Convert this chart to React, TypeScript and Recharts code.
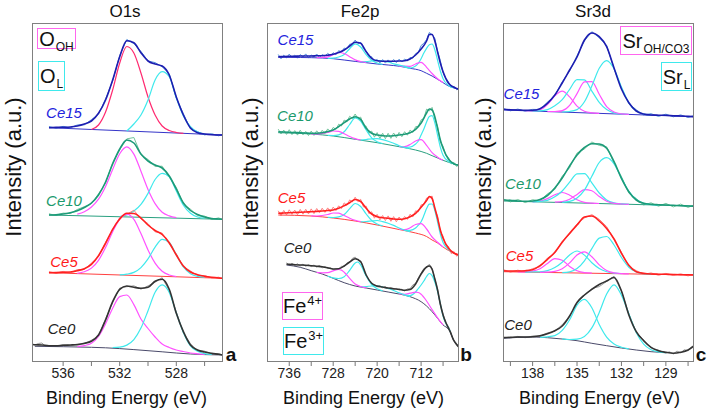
import React from "react";
import { ComposedChart, Line, XAxis, YAxis } from "recharts";

type Pt = [number, number];

// ---------- O1s (binding energy eV, intensity a.u.) ----------
const o1sCe15Raw: Pt[] = [[537, 235.5], [536.5, 233.8], [536, 235.6], [535.5, 234.2], [535, 237], [534.5, 237.2], [534, 242.3], [533.5, 247.8], [533, 263.1], [532.5, 281], [532, 306.5], [531.5, 322.5], [531, 318.4], [530.5, 310.6], [530, 301], [529.5, 299.4], [529, 295.2], [528.5, 288.3], [528, 264], [527.5, 248.2], [527, 233.2], [526.5, 230.4], [526, 227.1], [525.5, 228.3], [525, 226.2], [524.7, 227.6]];
const o1sCe15Fit: Pt[] = [[537, 234.3], [536.5, 234.6], [536, 234.7], [535.5, 235], [535, 236], [534.5, 238], [534, 241], [533.5, 248.7], [533, 262], [532.5, 282], [532, 305.3], [531.5, 321.3], [531, 319.3], [530.5, 309.3], [530, 301], [529.5, 298], [529, 296], [528.5, 287], [528, 265], [527.5, 247], [527, 234], [526.5, 229.3], [526, 228], [525.5, 227.3], [525, 227], [524.7, 227]];
const o1sCe15Bg: Pt[] = [[537, 234.3], [524.7, 227]];
const o1sCe15OH: Pt[] = [[534, 232.5], [533.5, 237], [533, 250], [532.5, 272], [532, 299], [531.5, 315.5], [531, 309], [530.5, 289], [530, 265], [529.5, 247], [529, 236], [528.5, 231.5], [528, 229.5], [527.5, 228.7]];
const o1sCe15L: Pt[] = [[531.5, 231], [531, 238], [530.5, 247], [530, 262], [529.5, 282], [529, 290.3], [528.5, 285.3], [528, 264], [527.5, 246], [527, 235.3], [526.5, 230], [526, 228]];

const o1sCe10Raw: Pt[] = [[537, 148.2], [536.5, 146.5], [536, 148.9], [535.5, 148.4], [535, 152.5], [534.5, 155.3], [534, 158.2], [533.5, 168.1], [533, 178.8], [532.5, 199.4], [532, 212.2], [531.5, 223.1], [531, 224.5], [530.5, 207.5], [530, 202.5], [529.5, 195.6], [529, 195.8], [528.5, 184.9], [528, 174.6], [527.5, 158], [527, 152.8], [526.5, 146.3], [526, 145.9], [525.5, 142.6], [525, 144.1], [524.7, 142]];
const o1sCe10Fit: Pt[] = [[537, 147], [536.5, 147.3], [536, 148], [535.5, 149.3], [535, 151.3], [534.5, 154.5], [534, 159], [533.5, 167], [533, 180], [532.5, 198], [532, 213], [531.5, 222], [531, 219], [530.5, 208], [530, 201], [529.5, 197], [529, 194], [528.5, 186], [528, 173], [527.5, 159], [527, 151.5], [526.5, 147.5], [526, 145], [525.5, 143.5], [525, 143], [524.7, 142.7]];
const o1sCe10Bg: Pt[] = [[537, 147], [524.7, 142.7]];
const o1sCe10OH: Pt[] = [[535, 147.8], [534.5, 150.2], [534, 155], [533.5, 162.8], [533, 175.6], [532.5, 192.5], [532, 208.3], [531.5, 215.1], [531, 207.9], [530.5, 190.8], [530, 172.6], [529.5, 158.4], [529, 149.7], [528.5, 146.1], [528, 144.3]];
const o1sCe10L: Pt[] = [[532, 145.5], [531.5, 147.1], [531, 150.9], [530.5, 157.6], [530, 168.6], [529.5, 182.5], [529, 188.7], [528.5, 185.1], [528, 170.9], [527.5, 156.8], [527, 148.7], [526.5, 145], [526, 143.9]];

const o1sCe5Raw: Pt[] = [[537, 90.5], [536.5, 88.7], [536, 90.6], [535.5, 89.2], [535, 92.4], [534.5, 92.6], [534, 98.9], [533.5, 105.4], [533, 119.9], [532.5, 131.6], [532, 144.5], [531.5, 147.6], [531, 151.8], [530.5, 143], [530, 138.4], [529.5, 130.2], [529, 128.9], [528.5, 118.2], [528, 108.1], [527.5, 95.3], [527, 91.1], [526.5, 86.5], [526, 86.4], [525.5, 84.1], [525, 84.8], [524.7, 83.2]];
const o1sCe5Fit: Pt[] = [[537, 89.3], [536.5, 89.4], [536, 89.7], [535.5, 90], [535, 91.3], [534.5, 93.3], [534, 97.7], [533.5, 106.3], [533, 118.7], [532.5, 132.7], [532, 143], [531.5, 148.7], [531, 148.5], [530.5, 144], [530, 137], [529.5, 131.5], [529, 127.5], [528.5, 119.3], [528, 107], [527.5, 96], [527, 90], [526.5, 87.3], [526, 85.7], [525.5, 84.7], [525, 84], [524.7, 83.7]];
const o1sCe5Bg: Pt[] = [[537, 89.3], [524.7, 83.7]];
const o1sCe5OH: Pt[] = [[535, 88.6], [534.5, 90.2], [534, 93.9], [533.5, 101.7], [533, 114.5], [532.5, 130.3], [532, 143], [531.5, 147.8], [531, 142.6], [530.5, 128.4], [530, 112.1], [529.5, 98.9], [529, 90.7], [528.5, 87], [528, 85.4]];
const o1sCe5L: Pt[] = [[532, 87.1], [531.5, 87.8], [531, 89.6], [530.5, 94.4], [530, 103.1], [529.5, 114.9], [529, 122.7], [528.5, 119.5], [528, 107.2], [527.5, 95], [527, 88.3], [526.5, 85.6], [526, 84.8]];

const o1sCe0Raw: Pt[] = [[538.2, 18], [538, 17], [537.75, 18.5], [537.5, 19], [537.25, 15.8], [537, 16.5], [536.5, 15.6], [536, 17.3], [535.5, 16.4], [535, 18], [534.5, 18.1], [534, 21.8], [533.5, 26.1], [533, 43.2], [532.5, 59.4], [532, 74], [531.5, 75.3], [531, 76.2], [530.5, 72.8], [530, 76.1], [529.5, 79.8], [529, 84.3], [528.5, 71.5], [528, 50], [527.5, 29.3], [527, 18.3], [526.5, 11.2], [526, 10.9], [525.5, 8], [525, 8.4], [524.7, 6.6]];
const o1sCe0Fit: Pt[] = [[538.2, 17.5], [538, 17.3], [537.5, 17], [537, 16.3], [536.5, 16.3], [536, 16.7], [535.5, 17], [535, 17.3], [534.5, 18.7], [534, 20.7], [533.5, 27], [533, 42], [532.5, 60.3], [532, 72.7], [531.5, 76], [531, 74.7], [530.5, 73.7], [530, 74.7], [529.5, 80.7], [529, 82.7], [528.5, 72.7], [528, 48.7], [527.5, 30.3], [527, 17], [526.5, 12], [526, 10], [525.5, 8.7], [525, 7.7], [524.7, 7]];
const o1sCe0Bg: Pt[] = [[538, 15.7], [536, 15.3], [534, 14.7], [533, 14.2], [532, 13.4], [531, 12.4], [530, 11.3], [529, 10.2], [528, 9], [527, 8], [526, 7.4], [524.7, 7]];
const o1sCe0OH: Pt[] = [[535, 15.3], [534.5, 16.4], [534, 18.7], [533.5, 25.5], [533, 38.2], [532.5, 53.8], [532, 65.4], [531.5, 67], [531, 57.4], [530.5, 43], [530, 33.5], [529.5, 25], [529, 18], [528.5, 14.5], [528, 12], [527.5, 10.5], [527, 9], [526.5, 8.2], [526, 7.6]];
const o1sCe0L: Pt[] = [[532.5, 14.5], [532, 14.9], [531.5, 16.9], [531, 22.4], [530.5, 33.9], [530, 51.3], [529.5, 69.8], [529, 77.2], [528.5, 69.6], [528, 49], [527.5, 29.5], [527, 16], [526.5, 10.7], [526, 8.4], [525.5, 7.6]];

// ---------- Fe2p ----------
const feCe15Raw: Pt[] = [[738, 307.5], [737.5, 303.2], [737, 306.8], [736.5, 304.1], [736, 307.9], [735.5, 304.6], [735, 306.9], [734.5, 303.8], [734, 307.4], [733.5, 305], [733, 308.1], [732.5, 304.3], [732, 306.9], [731.5, 305.1], [731, 308], [730.5, 304.6], [730, 307.5], [729.5, 305.8], [729, 308.6], [728.5, 306.4], [728, 309.3], [727.5, 307.2], [727, 311.4], [726.5, 309.8], [726, 313.9], [725.5, 313.2], [725, 317.8], [724.5, 318.1], [724, 321.9], [723.5, 318.4], [723, 319.6], [722.5, 313.3], [722, 311.2], [721.5, 304.8], [721, 305.3], [720.5, 300.2], [720, 302.6], [719.5, 299.1], [719, 302.4], [718.5, 298.9], [718, 302.1], [717.5, 299.3], [717, 302.5], [716.5, 299.4], [716, 302.8], [715.5, 300], [715, 303], [714.5, 301.1], [714, 304.6], [713.5, 303.8], [713, 308.4], [712.5, 309.6], [712, 316.5], [711.5, 318.7], [711, 322.4], [710.5, 329.5], [710, 327.4], [709.5, 323.6], [709, 310.8], [708.5, 301.4], [708, 289.2], [707.5, 283.6], [707, 279.8], [706.5, 275.2], [706, 275.6], [705.5, 272.2], [705.1, 274]];
const feCe15Fit: Pt[] = [[738, 305.3], [737, 305.5], [736, 305.7], [735, 305.8], [734, 306], [733, 306], [732, 306], [731, 306.2], [730, 306.3], [729, 306.8], [728, 307.7], [727, 309.5], [726, 312], [725, 316], [724, 319.7], [723, 318.7], [722, 310.3], [721, 303.7], [720, 301.3], [719, 300.8], [718, 300.7], [717, 300.8], [716, 301], [715, 301.3], [714, 303], [713, 307], [712, 313], [711, 321], [710.5, 327.5], [710, 327.5], [709.5, 321], [709, 310], [708.5, 299], [708, 290.3], [707, 278.7], [706, 274.7], [705.1, 272.7]];
const feCe15Bg: Pt[] = [[738, 304.7], [734, 304.5], [730, 304], [728, 303.3], [726, 302], [724, 300.6], [722, 299.3], [720, 298], [718, 297], [716, 295.8], [714, 293.7], [712, 291.3], [711, 288.7], [710, 286], [709, 282.7], [708, 279.3], [707, 276], [706, 274], [705.1, 272.7]];
const feCe15Fe3a: Pt[] = [[715, 294.8], [714, 294], [713, 296], [712.5, 298.9], [712, 303.3], [711.5, 309], [711, 313.7], [710.5, 317.3], [710, 318], [709.5, 312.3], [709, 301.7], [708.5, 291], [708, 283.3], [707, 276.5], [706, 274]];
const feCe15Fe4a: Pt[] = [[716, 296], [715, 295.8], [714, 295.7], [713, 298], [712, 299.7], [711, 294.7], [710, 288.5], [709, 283.2], [708, 279.5]];
const feCe15Sat: Pt[] = [[723, 300.2], [722, 300.3], [721, 301.2], [720, 301.5], [719, 301], [718, 300], [717, 298.2], [716, 296.8], [715, 295.6], [714, 293.9]];
const feCe15Fe3b: Pt[] = [[729, 303.6], [728, 303.8], [727, 305], [726, 307.5], [725, 313.3], [724, 318.1], [723, 315], [722, 307.3], [721, 301.7], [720, 299], [719, 297.6]];
const feCe15Fe4b: Pt[] = [[731, 304.3], [730, 304.5], [729, 305.2], [728, 307.3], [727, 309.5], [726, 308.5], [725, 305.3], [724, 302.1], [723, 300.5], [722, 299.5]];

const feCe10Raw: Pt[] = [[738, 232.8], [737.5, 228.1], [737, 231.9], [736.5, 227.6], [736, 232.3], [735.5, 227.4], [735, 231.4], [734.5, 226.9], [734, 231.8], [733.5, 227.2], [733, 230.6], [732.5, 226.5], [732, 230.9], [731.5, 226.6], [731, 231.2], [730.5, 227.8], [730, 231.7], [729.5, 228.3], [729, 233.1], [728.5, 230.2], [728, 234.6], [727.5, 232.6], [727, 237.8], [726.5, 236], [726, 241.9], [725.5, 240.2], [725, 245.7], [724.5, 243.6], [724, 248], [723.5, 243.1], [723, 244.9], [722.5, 236.6], [722, 235.8], [721.5, 228.7], [721, 230.9], [720.5, 224.8], [720, 229.4], [719.5, 223.5], [719, 228.8], [718.5, 223.3], [718, 228.7], [717.5, 223.6], [717, 229], [716.5, 224.4], [716, 229.6], [715.5, 225.3], [715, 230.3], [714.5, 226.8], [714, 231.9], [713.5, 229.5], [713, 235.3], [712.5, 235.8], [712, 242.1], [711.5, 243.6], [711, 252.8], [710.5, 251.1], [710, 254.6], [709.5, 243], [709, 235.9], [708.5, 220.1], [708, 215.8], [707.5, 206.4], [707, 204.3], [706.5, 198.2], [706, 199.5], [705.5, 195.4], [705.1, 197.8]];
const feCe10Fit: Pt[] = [[738, 230.3], [737, 230], [736, 229.7], [735, 229.5], [734, 229.3], [733, 229], [732, 228.7], [731, 228.8], [730, 229.3], [729, 230.5], [728, 232], [727, 235.3], [726, 239.3], [725, 243], [724, 245.3], [723, 242.7], [722, 233.7], [721, 228.7], [720, 227], [719, 226.3], [718, 226], [717, 226.3], [716, 227], [715, 227.7], [714, 229.3], [713, 232.7], [712, 239], [711, 249], [710.5, 253], [710, 252], [709.5, 245.3], [709, 233.7], [708.5, 222], [708, 213.7], [707, 202.7], [706, 198], [705.1, 196.7]];
const feCe10Bg: Pt[] = [[738, 229.3], [732, 228], [728, 226], [724, 222.7], [720, 219.3], [716, 215.3], [713, 212], [711, 208.7], [710, 206.3], [709, 204], [708, 201.7], [707, 199.7], [706, 198], [705.1, 197]];
const feCe10Fe3a: Pt[] = [[715, 214.6], [714, 215], [713, 218], [712.5, 221], [712, 227], [711.5, 233], [711, 240], [710.5, 245.5], [710, 246.3], [709.5, 239.2], [709, 227], [708.5, 214.8], [708, 206.7], [707, 200.7], [706, 198]];
const feCe10Fe4a: Pt[] = [[716, 215.5], [715.5, 215.1], [715, 215.3], [714, 217.5], [713, 221], [712, 222.3], [711, 216.7], [710, 209.3], [709, 204.8], [708, 201.7]];
const feCe10Sat: Pt[] = [[723, 221.9], [722, 222.5], [721, 223.2], [720, 223.3], [719, 222.3], [718, 220.8], [717, 218.8], [716, 216.3], [715, 214.6], [714, 213.6]];
const feCe10Fe3b: Pt[] = [[729, 226.6], [728, 226.5], [727, 227.2], [726, 230.3], [725, 237.5], [724, 244.2], [723, 240.8], [722, 232], [721, 224.2], [720, 220.3], [719, 218.5]];
const feCe10Fe4b: Pt[] = [[732, 228], [731, 228], [730, 228.5], [729, 229.5], [728, 231], [727, 230.7], [726, 228.3], [725, 225.5], [724, 223.4], [723, 222]];

const feCe5Raw: Pt[] = [[738, 151.2], [737.5, 146.3], [737, 151.6], [736.5, 147.1], [736, 152.2], [735.5, 147.6], [735, 151.9], [734.5, 147.3], [734, 152.6], [733.5, 147.8], [733, 152.7], [732.5, 148.1], [732, 153.1], [731.5, 148.4], [731, 153.5], [730.5, 149.2], [730, 153.8], [729.5, 149.6], [729, 154.1], [728.5, 150], [728, 154.9], [727.5, 151.4], [727, 156.2], [726.5, 153.4], [726, 159.1], [725.5, 156.6], [725, 162.1], [724.5, 160.2], [724, 164.8], [723.5, 160.3], [723, 162.7], [722.5, 155.1], [722, 155.9], [721.5, 148.3], [721, 150.2], [720.5, 143.8], [720, 147.6], [719.5, 142.1], [719, 146.5], [718.5, 141.4], [718, 146.1], [717.5, 140.7], [717, 145.4], [716.5, 140.2], [716, 145], [715.5, 141.1], [715, 145.5], [714.5, 142.6], [714, 147.8], [713.5, 145.1], [713, 151.2], [712.5, 150.2], [712, 157.1], [711.5, 157.6], [711, 163.9], [710.5, 164.2], [710, 166], [709.5, 152.4], [709, 146.1], [708.5, 130.3], [708, 125.9], [707.5, 116.4], [707, 115.5], [706.5, 108.3], [706, 110.4], [705.5, 105.7], [705.1, 108.4]];
const feCe5Fit: Pt[] = [[738, 148.7], [737, 149], [736, 149.3], [735, 149.5], [734, 149.7], [733, 150], [732, 150.3], [731, 150.6], [730, 151], [729, 151.5], [728, 152], [727, 153.7], [726, 156.3], [725, 159.3], [724, 162.5], [723, 160.5], [722, 153.7], [721, 148], [720, 145.3], [719, 144.3], [718, 143.7], [717, 143], [716, 142.7], [715, 143.3], [714, 145.3], [713, 148.7], [712, 154.7], [711, 161.5], [710.5, 165.5], [710, 163.5], [709.5, 154], [709, 143.7], [708.5, 132], [708, 123.7], [707, 113.7], [706, 108.7], [705.1, 107]];
const feCe5Bg: Pt[] = [[738, 147], [732, 146], [728, 144], [724, 141], [720, 137], [716, 132.5], [713, 129], [711, 125.5], [710, 122], [709, 119], [708, 115], [707, 111.5], [706, 109], [705.1, 107]];
const feCe5Fe3a: Pt[] = [[715, 131.5], [714, 131.7], [713, 134], [712.5, 136.8], [712, 140.3], [711.5, 146.4], [711, 153.5], [710.5, 157.8], [710, 158], [709.5, 151.5], [709, 140], [708.5, 128], [708, 119.5], [707, 112.5], [706, 109]];
const feCe5Fe4a: Pt[] = [[716, 132.8], [715.5, 132.5], [715, 132.3], [714, 134.2], [713, 137.5], [712, 138.3], [711, 133], [710, 125], [709, 119.8], [708, 115]];
const feCe5Sat: Pt[] = [[723, 140.2], [722, 140.5], [721, 141], [720, 141.5], [719, 140.4], [718, 138.8], [717, 136.6], [716, 134], [715, 131.8], [714, 130.3]];
const feCe5Fe3b: Pt[] = [[729, 144.6], [728, 144.5], [727, 145.1], [726, 147.5], [725, 153.3], [724, 158.5], [723, 155.5], [722, 148], [721, 141.5], [720, 138], [719, 136.1]];
const feCe5Fe4b: Pt[] = [[732, 146.2], [731, 146], [730, 146.5], [729, 147.5], [728, 149], [727, 148.8], [726, 146.5], [725, 143.8], [724, 141.7], [723, 140.3]];

const feCe0Raw: Pt[] = [[736.5, 99.2], [736, 96.6], [735.5, 98.9], [735, 96.4], [734.5, 98.3], [734, 96.1], [733.5, 97.9], [733, 95.7], [732.5, 97.5], [732, 95.4], [731.5, 97], [731, 94.8], [730.5, 96.5], [730, 94.2], [729.5, 95.5], [729, 93.4], [728.5, 94.1], [728, 92.2], [727.5, 93.6], [727, 92.9], [726.5, 95.8], [726, 95.5], [725.5, 99.1], [725, 99.8], [724.5, 103.6], [724, 104.9], [723.5, 102], [723, 101.2], [722.5, 93.8], [722, 86.1], [721.5, 82.3], [721, 77.9], [720.5, 77.5], [720, 75.1], [719.5, 76.3], [719, 74.2], [718.5, 75.2], [718, 73.3], [717.5, 74.4], [717, 72.5], [716.5, 73.6], [716, 71.8], [715.5, 72.8], [715, 71], [714.5, 73.1], [714, 73.3], [713.5, 77.1], [713, 78.6], [712.5, 84.2], [712, 88.7], [711.5, 93.4], [711, 94.6], [710.5, 97.8], [710, 93.5], [709.5, 83.2], [709, 72.9], [708.5, 57.1], [708, 47.9], [707.5, 39], [707, 35.3], [706.7, 31], [706.4, 26], [706.1, 22.8], [705.6, 18.6], [705.2, 15]];
const feCe0Fit: Pt[] = [[736.5, 98], [736, 97.7], [735, 97.3], [734, 97], [733, 96.7], [732, 96.3], [731, 95.8], [730, 95.3], [729, 94.3], [728, 93], [727, 93.3], [726, 96], [725, 100], [724, 103.3], [723, 100.3], [722, 87], [721, 78.7], [720, 76], [719, 75], [718, 74], [717, 73.3], [716, 72.7], [715, 71.7], [714, 72.5], [713, 78], [712, 88], [711, 95], [710.5, 96], [710, 92.7], [709.5, 83], [709, 72], [708.5, 58], [708, 47], [707.5, 39.5], [707, 33.7], [706.7, 30.3], [706.1, 22], [705.6, 18], [705.2, 15.3]];
const feCe0Bg: Pt[] = [[736.5, 97], [734, 94.7], [732, 91.3], [730, 88], [728, 83.7], [726, 79.3], [724, 76], [722, 74], [720, 72], [718, 70], [716, 68], [714, 65.3], [712, 60.3], [711, 56], [710, 50.3], [709, 43.7], [708, 37], [707, 32.7], [706.7, 30], [706.1, 22], [705.2, 15.3]];
const feCe0Fe3a: Pt[] = [[715, 67], [714, 66.5], [713, 70], [712.5, 73.5], [712, 77], [711.5, 81], [711, 85.5], [710.5, 88.5], [710, 86.3], [709.5, 80], [709, 70.7], [708.5, 58.3], [708, 46], [707.5, 38.8], [707, 34.2], [706.7, 30.5]];
const feCe0Fe4a: Pt[] = [[716, 68.2], [715.5, 68], [715, 67.7], [714, 68.8], [713, 69.8], [712.5, 69.5], [712, 67.8], [711, 61], [710, 52.3], [709, 44.2], [708, 37]];
const feCe0Sat: Pt[] = [[723, 75.2], [722, 75.5], [721, 76], [720, 76], [719, 75], [718, 73.5], [717, 71.5], [716, 69.2], [715, 67.1], [714, 65.4]];
const feCe0Fe3b: Pt[] = [[729, 85.8], [728, 84.2], [727, 83.5], [726, 85.3], [725, 91.7], [724, 99], [723.5, 100], [723, 97], [722, 86], [721, 77.5], [720, 73.2], [719, 71.2]];
const feCe0Fe4b: Pt[] = [[731, 89.6], [730.5, 89.3], [730, 89.2], [729, 89.3], [728, 91.2], [727, 92.5], [726.5, 91.9], [726, 89.8], [725, 83.7], [724, 78], [723, 75.5], [722, 74.2]];

// ---------- Sr3d ----------
const srCe15Raw: Pt[] = [[140, 253.5], [139.5, 251.2], [139, 252.9], [138.5, 250.8], [138, 252.6], [137.5, 252.5], [137, 259.8], [136.5, 266.1], [136, 280.2], [135.5, 291.1], [135, 306.3], [134.5, 321.1], [134, 330.3], [133.5, 324.2], [133, 316.5], [132.5, 293.1], [132, 274.2], [131.5, 258.4], [131, 252.2], [130.5, 247.1], [130, 248.3], [129.5, 245.6], [129, 247.8], [128.5, 245.2], [128, 247.1], [127.5, 244.6], [127.1, 246.4]];
const srCe15Fit: Pt[] = [[140, 252.7], [139.5, 252.3], [139, 252], [138.5, 251.7], [138, 251.7], [137.5, 253.3], [137, 258.7], [136.5, 267], [136, 279], [135.5, 292], [135, 305], [134.5, 322], [134, 329], [133.5, 325.3], [133, 315.3], [132.5, 294], [132, 273], [131.5, 259.3], [131, 251], [130.5, 248], [130, 247], [129.5, 246.8], [129, 246.7], [128.5, 246.3], [128, 246], [127.5, 245.6], [127.1, 245.3]];
const srCe15Bg: Pt[] = [[140, 252], [127.1, 245.3]];
const srCe15OHa: Pt[] = [[138.5, 251.3], [138, 251.3], [137.5, 252.2], [137, 257.4], [136.5, 266.2], [136, 270.9], [135.5, 265.1], [135, 255.9], [134.5, 250.7], [134, 249.2], [133.5, 248.7]];
const srCe15La: Pt[] = [[138, 251], [137.5, 251.2], [137, 252.4], [136.5, 256.2], [136, 262.4], [135.5, 272.7], [135, 282.4], [134.5, 282.2], [134, 270.9], [133.5, 259.7], [133, 252.4], [132.5, 249.2], [132, 248.1], [131.5, 247.7]];
const srCe15OHb: Pt[] = [[137, 250.4], [136.5, 250.5], [136, 251.4], [135.5, 256.7], [135, 268.4], [134.5, 280.2], [134, 280.4], [133.5, 267.7], [133, 255.4], [132.5, 250], [132, 248.2], [131.5, 247.7]];
const srCe15Lb: Pt[] = [[136, 250], [135.5, 250.5], [135, 252.4], [134.5, 260.2], [134, 275.9], [133.5, 293.7], [133, 301.4], [132.5, 293.2], [132, 274.9], [131.5, 259.1], [131, 251], [130.5, 247.9], [130, 247]];

const srCe10Raw: Pt[] = [[140, 163.2], [139.5, 160.1], [139, 162.5], [138.5, 159.4], [138, 162.3], [137.5, 161.1], [137, 168.1], [136.5, 172.6], [136, 185.8], [135.5, 194.4], [135, 208.9], [134.5, 213.1], [134, 220], [133.5, 216.6], [133, 215.2], [132.5, 198.9], [132, 185.4], [131.5, 168.8], [131, 163.5], [130.5, 157.1], [130, 159.2], [129.5, 155.8], [129, 158.6], [128.5, 155.1], [128, 157.9], [127.5, 154.6], [127.1, 157]];
const srCe10Fit: Pt[] = [[140, 162], [139.5, 161.7], [139, 161], [138.5, 160.7], [138, 161], [137.5, 162.5], [137, 166.5], [136.5, 174], [136, 184], [135.5, 196], [135, 207], [134.5, 214.5], [134, 218.3], [133.5, 218], [133, 213.7], [132.5, 200.3], [132, 183.7], [131.5, 170.3], [131, 162], [130.5, 158.7], [130, 157.7], [129.5, 157.3], [129, 157], [128.5, 156.7], [128, 156.3], [127.5, 156], [127.1, 155.7]];
const srCe10Bg: Pt[] = [[140, 161], [127.1, 156]];
const srCe10OHa: Pt[] = [[138, 160.2], [137.5, 160.8], [137, 163.4], [136.5, 167.2], [136, 169.5], [135.5, 166.8], [135, 162.3], [134.5, 159.7], [134, 158.8], [133.5, 158.5]];
const srCe10La: Pt[] = [[138, 160.1], [137.5, 160.6], [137, 161.7], [136.5, 165.2], [136, 171], [135.5, 179.8], [135, 188.1], [134.5, 188.4], [134, 179.2], [133.5, 169], [133, 162.1], [132.5, 159.1], [132, 158.1], [131.5, 157.7]];
const srCe10OHb: Pt[] = [[136.5, 159.8], [136, 160.3], [135.5, 162.8], [135, 167.6], [134.5, 172.4], [134, 171.2], [133.5, 165.5], [133, 160.8], [132.5, 158.6], [132, 158], [131.5, 157.7]];
const srCe10Lb: Pt[] = [[136, 159.6], [135.5, 160.6], [135, 164.1], [134.5, 171.9], [134, 185.7], [133.5, 199.5], [133, 204.3], [132.5, 198.1], [132, 183.9], [131.5, 170.7], [131, 162.5], [130.5, 158.7], [130, 157.4], [129.5, 156.9]];

const srCe5Raw: Pt[] = [[140, 92.5], [139.5, 89.9], [139, 91.8], [138.5, 90.2], [138, 93.4], [137.5, 95.2], [137, 103.9], [136.5, 108.6], [136, 120.8], [135.5, 127.6], [135, 138.1], [134.5, 144], [134, 147.4], [133.5, 142.7], [133, 135.4], [132.5, 122.6], [132, 109.8], [131.5, 95.6], [131, 91.4], [130.5, 87.6], [130, 89.1], [129.5, 86.7], [129, 88.6], [128.5, 86.5], [128, 88.2], [127.5, 86.1], [127.1, 87.9]];
const srCe5Fit: Pt[] = [[140, 91.3], [139.5, 91], [139, 91], [138.5, 91.3], [138, 92.3], [137.5, 96.3], [137, 102.7], [136.5, 109.7], [136, 119.7], [135.5, 128.7], [135, 137], [134.5, 145], [134, 146], [133.5, 141], [133, 133.5], [132.5, 123], [132, 108.7], [131.5, 96.7], [131, 90.3], [130.5, 88.7], [130, 88], [129.5, 87.8], [129, 87.7], [128.5, 87.5], [128, 87.3], [127.5, 87.2], [127.1, 87]];
const srCe5Bg: Pt[] = [[140, 90.3], [127.1, 87]];
const srCe5OHa: Pt[] = [[139, 90], [138.5, 90], [138, 90.8], [137.5, 93.2], [137, 98.5], [136.5, 103.4], [136, 101.8], [135.5, 95.6], [135, 91.3], [134.5, 89.4], [134, 88.9]];
const srCe5La: Pt[] = [[138.5, 89.9], [138, 90], [137.5, 90.2], [137, 91.3], [136.5, 94.4], [136, 99.8], [135.5, 107.1], [135, 111], [134.5, 106.9], [134, 99.3], [133.5, 93.6], [133, 90.3], [132.5, 88.9], [132, 88.4]];
const srCe5OHb: Pt[] = [[137.5, 89.7], [137, 89.8], [136.5, 90.6], [136, 93.3], [135.5, 99.1], [135, 107], [134.5, 110.2], [134, 105.3], [133.5, 97.1], [133, 91.5], [132.5, 89.1], [132, 88.4], [131.5, 88.1]];
const srCe5Lb: Pt[] = [[136, 89.4], [135.5, 90.2], [135, 93.5], [134.5, 101.2], [134, 113.4], [133.5, 123.9], [133, 125.5], [132.5, 117], [132, 104.5], [131.5, 94.8], [131, 90], [130.5, 88.3], [130, 87.8]];

const srCe0Raw: Pt[] = [[140, 25], [139.5, 24], [139, 25.6], [138.5, 24.3], [138, 26], [137.5, 25.7], [137, 29.1], [136.5, 30.8], [136, 37.3], [135.5, 45.4], [135, 59.2], [134.5, 66.4], [134, 73.5], [133.5, 75.4], [133, 80.6], [132.5, 85.8], [132, 71.1], [131.5, 47.9], [131, 29.6], [130.5, 22], [130, 14.1], [129.5, 11.9], [129, 8.8], [128.75, 10.2], [128.5, 8], [128.25, 10.9], [128, 9.2], [127.75, 12.3], [127.5, 11.2], [127.3, 14.8], [127.1, 16.5]];
const srCe0Fit: Pt[] = [[140, 24.3], [139.5, 24.7], [139, 25], [138.5, 25], [138, 25.3], [137.5, 26.3], [137, 28.3], [136.5, 31.3], [136, 36], [135.5, 46], [135, 59.5], [134.5, 67], [134, 72.7], [133.5, 77.5], [133, 81], [132.5, 84.5], [132, 71], [131.5, 47], [131, 30.3], [130.5, 21.3], [130, 14.7], [129.5, 11.3], [129, 9.7], [128.5, 8.7], [128, 9.7], [127.5, 12], [127.1, 16]];
const srCe0Bg: Pt[] = [[140, 23.7], [138, 25], [137, 24.3], [136, 23], [135, 21.3], [134, 18.7], [133, 16.3], [132, 14], [131, 12], [130, 10.3], [129, 9.3]];
const srCe0La: Pt[] = [[137.5, 24.7], [137, 25.2], [136.5, 26.4], [136, 31.6], [135.5, 42.2], [135, 56.9], [134.5, 62.7], [134, 54.3], [133.5, 37.5], [133, 24.9], [132.5, 17.9], [132, 14.8], [131.5, 13.2]];
const srCe0Lb: Pt[] = [[136, 23.1], [135.5, 22.5], [135, 22.9], [134.5, 25.5], [134, 34.1], [133.5, 49.5], [133, 68], [132.5, 77.2], [132, 66.8], [131.5, 48.2], [131, 29.6], [130.5, 17.8], [130, 12.3], [129.5, 10.2], [129, 9.4]];

// axis ticks
const o1sTicks = [536, 534, 532, 530, 528, 526];
const o1sLabels = [536, 532, 528];
const feTicks = [736, 732, 728, 724, 720, 716, 712, 708];
const feLabels = [736, 728, 720, 712];
const srTicks = [139.5, 138, 136.5, 135, 133.5, 132, 130.5, 129, 127.5];
const srLabels = [138, 135, 132, 129];

const MAG = "#ff52ff";
const CYA = "#3fe9ec";
const FONT = '"Liberation Sans", Arial, sans-serif';

const STY = {
  ce15: { fit: "#1d1db0", raw: "#4f8fd8", bg: "#3535c8" },
  ce10: { fit: "#1c9a78", raw: "#72c49c", bg: "#2aa080" },
  ce5: { fit: "#ff2020", raw: "#ff8080", bg: "#ff4040" },
  ce0: { fit: "#333333", raw: "#9a9a9a", bg: "#4a4a6a" },
};

interface Series {
  pts: Pt[];
  color: string;
  width: number;
  smooth: boolean;
}

const spectrum = (
  raw: Pt[],
  fit: Pt[],
  bg: Pt[],
  comps: [Pt[], string][],
  s: { fit: string; raw: string; bg: string }
): Series[] => [
  { pts: raw, color: s.raw, width: 1, smooth: false },
  { pts: bg, color: s.bg, width: 1, smooth: true },
  ...comps.map(([p, c]) => ({ pts: p, color: c, width: 1.2, smooth: true })),
  { pts: fit, color: s.fit, width: 1.6, smooth: true },
];

const o1sSeries: Series[] = [
  ...spectrum(o1sCe15Raw, o1sCe15Fit, o1sCe15Bg, [[o1sCe15OH, "#ff2a70"], [o1sCe15L, CYA]], STY.ce15),
  ...spectrum(o1sCe10Raw, o1sCe10Fit, o1sCe10Bg, [[o1sCe10OH, MAG], [o1sCe10L, CYA]], STY.ce10),
  ...spectrum(o1sCe5Raw, o1sCe5Fit, o1sCe5Bg, [[o1sCe5OH, MAG], [o1sCe5L, CYA]], STY.ce5),
  ...spectrum(o1sCe0Raw, o1sCe0Fit, o1sCe0Bg, [[o1sCe0OH, MAG], [o1sCe0L, CYA]], STY.ce0),
];

const feSeries: Series[] = [
  ...spectrum(feCe15Raw, feCe15Fit, feCe15Bg, [[feCe15Fe3a, CYA], [feCe15Fe4a, MAG], [feCe15Sat, CYA], [feCe15Fe3b, CYA], [feCe15Fe4b, MAG]], STY.ce15),
  ...spectrum(feCe10Raw, feCe10Fit, feCe10Bg, [[feCe10Fe3a, CYA], [feCe10Fe4a, MAG], [feCe10Sat, CYA], [feCe10Fe3b, CYA], [feCe10Fe4b, MAG]], STY.ce10),
  ...spectrum(feCe5Raw, feCe5Fit, feCe5Bg, [[feCe5Fe3a, CYA], [feCe5Fe4a, MAG], [feCe5Sat, CYA], [feCe5Fe3b, CYA], [feCe5Fe4b, MAG]], STY.ce5),
  ...spectrum(feCe0Raw, feCe0Fit, feCe0Bg, [[feCe0Fe3a, CYA], [feCe0Fe4a, MAG], [feCe0Sat, CYA], [feCe0Fe3b, CYA], [feCe0Fe4b, MAG]], STY.ce0),
];

const srSeries: Series[] = [
  ...spectrum(srCe15Raw, srCe15Fit, srCe15Bg, [[srCe15OHa, MAG], [srCe15La, CYA], [srCe15OHb, MAG], [srCe15Lb, CYA]], STY.ce15),
  ...spectrum(srCe10Raw, srCe10Fit, srCe10Bg, [[srCe10OHa, MAG], [srCe10La, CYA], [srCe10OHb, MAG], [srCe10Lb, CYA]], STY.ce10),
  ...spectrum(srCe5Raw, srCe5Fit, srCe5Bg, [[srCe5OHa, MAG], [srCe5La, CYA], [srCe5OHb, MAG], [srCe5Lb, CYA]], STY.ce5),
  ...spectrum(srCe0Raw, srCe0Fit, srCe0Bg, [[srCe0La, CYA], [srCe0Lb, CYA]], STY.ce0),
];

const PLOT_TOP = 23;
const PLOT_H = 339;

const Panel = ({ left, width, domain, ticks, labels, series }: {
  left: number;
  width: number;
  domain: [number, number];
  ticks: number[];
  labels: number[];
  series: Series[];
}) => (
  <div style={{ position: "absolute", left, top: PLOT_TOP }}>
    <ComposedChart width={width} height={PLOT_H + 30} margin={{ top: 0, right: 0, bottom: 0, left: 0 }}>
      <XAxis
        type="number"
        dataKey="x"
        domain={domain}
        reversed
        allowDataOverflow
        ticks={ticks}
        interval={0}
        tickFormatter={(v: number) => (labels.includes(v) ? String(v) : "")}
        tick={{ fontSize: 14, fill: "#222", fontFamily: FONT }}
        tickSize={4}
        tickLine={{ stroke: "#777" }}
        axisLine={false}
        height={30}
      />
      <YAxis type="number" domain={[0, PLOT_H]} hide allowDataOverflow />
      {series.map((s, i) => (
        <Line
          key={i}
          data={s.pts.map(([x, y]) => ({ x, y }))}
          dataKey="y"
          type={s.smooth ? "monotone" : "linear"}
          stroke={s.color}
          strokeWidth={s.width}
          dot={false}
          activeDot={false}
          isAnimationActive={false}
        />
      ))}
    </ComposedChart>
    <div
      style={{
        position: "absolute",
        left: 0,
        top: 0,
        width,
        height: PLOT_H,
        border: "1px solid #808080",
        boxSizing: "border-box",
        pointerEvents: "none",
      }}
    />
  </div>
);

const T = ({ x, y, children, style }: { x: number; y: number; children: React.ReactNode; style?: React.CSSProperties }) => (
  <div
    style={{
      position: "absolute",
      left: x,
      top: y,
      transform: "translate(-50%, -50%)",
      whiteSpace: "nowrap",
      lineHeight: 1,
      ...style,
    }}
  >
    {children}
  </div>
);

const Box = ({ x, y, w, h, color, children }: { x: number; y: number; w: number; h: number; color: string; children: React.ReactNode }) => (
  <div
    style={{
      position: "absolute",
      left: x,
      top: y,
      width: w,
      height: h,
      border: `1.5px solid ${color}`,
      boxSizing: "border-box",
      display: "flex",
      alignItems: "center",
      justifyContent: "center",
      color: "#111",
    }}
  >
    <span style={{ fontSize: 20, lineHeight: 1, whiteSpace: "nowrap" }}>{children}</span>
  </div>
);

const sub = { fontSize: 12, position: "relative", top: 5, marginLeft: 1 } as React.CSSProperties;
const sup = { fontSize: 13, position: "relative", top: -8, marginLeft: 1 } as React.CSSProperties;

const yLabel = { fontSize: 22, color: "#111", transform: "translate(-50%, -50%) rotate(-90deg)" } as React.CSSProperties;
const xLabel = { fontSize: 18, color: "#111" } as React.CSSProperties;
const title = { fontSize: 17, color: "#111" } as React.CSSProperties;
const letter = { fontSize: 19, fontWeight: 700, color: "#111" } as React.CSSProperties;
const ce = (c: string) => ({ fontSize: 15, fontStyle: "italic", color: c } as React.CSSProperties);

export default function App() {
  return (
    <div style={{ position: "relative", width: 709, height: 413, background: "#fff", fontFamily: FONT, overflow: "hidden" }}>
      <style>{`body{margin:0}`}</style>
      <Panel left={32} width={191} domain={[524.7, 538.2]} ticks={o1sTicks} labels={o1sLabels} series={o1sSeries} />
      <Panel left={267} width={192} domain={[705.1, 740.05]} ticks={feTicks} labels={feLabels} series={feSeries} />
      <Panel left={503} width={191} domain={[127.1, 140]} ticks={srTicks} labels={srLabels} series={srSeries} />

      <T x={125} y={11} style={title}>O1s</T>
      <T x={360} y={11} style={title}>Fe2p</T>
      <T x={593} y={11} style={title}>Sr3d</T>

      <T x={14} y={167} style={yLabel}>Intensity (a.u.)</T>
      <T x={251} y={167} style={yLabel}>Intensity (a.u.)</T>
      <T x={484} y={167} style={yLabel}>Intensity (a.u.)</T>

      <T x={126.5} y={398} style={xLabel}>Binding Energy (eV)</T>
      <T x={363.5} y={398} style={xLabel}>Binding Energy (eV)</T>
      <T x={599.5} y={398} style={xLabel}>Binding Energy (eV)</T>

      <T x={231} y={354} style={letter}>a</T>
      <T x={466} y={354} style={letter}>b</T>
      <T x={701} y={354} style={letter}>c</T>

      <T x={64} y={112} style={ce("#2323dd")}>Ce15</T>
      <T x={64} y={200} style={ce("#1b9a6c")}>Ce10</T>
      <T x={64} y={261} style={ce("#ff1a1a")}>Ce5</T>
      <T x={61.5} y={328} style={ce("#222")}>Ce0</T>

      <T x={295.5} y={39} style={ce("#2323dd")}>Ce15</T>
      <T x={295} y={115} style={ce("#1b9a6c")}>Ce10</T>
      <T x={291.5} y={197} style={ce("#ff1a1a")}>Ce5</T>
      <T x={297.5} y={247} style={ce("#222")}>Ce0</T>

      <T x={521.5} y={93} style={ce("#2323dd")}>Ce15</T>
      <T x={523} y={183} style={ce("#1b9a6c")}>Ce10</T>
      <T x={519.5} y={255} style={ce("#ff1a1a")}>Ce5</T>
      <T x={518} y={324} style={ce("#222")}>Ce0</T>

      <Box x={37} y={28} w={39} h={21} color="#ff66ee">
        O<span style={sub}>OH</span>
      </Box>
      <Box x={38} y={61} w={27} h={30} color={CYA}>
        O<span style={sub}>L</span>
      </Box>
      <Box x={282} y={292} w={41} h={28} color="#ff66ee">
        Fe<span style={sup}>4+</span>
      </Box>
      <Box x={283} y={327} w={41} h={28} color={CYA}>
        Fe<span style={sup}>3+</span>
      </Box>
      <Box x={620} y={26} w={72} h={29} color="#ff66ee">
        Sr<span style={sub}>OH/CO3</span>
      </Box>
      <Box x={661} y={62} w={31} h={29} color={CYA}>
        Sr<span style={sub}>L</span>
      </Box>
    </div>
  );
}
